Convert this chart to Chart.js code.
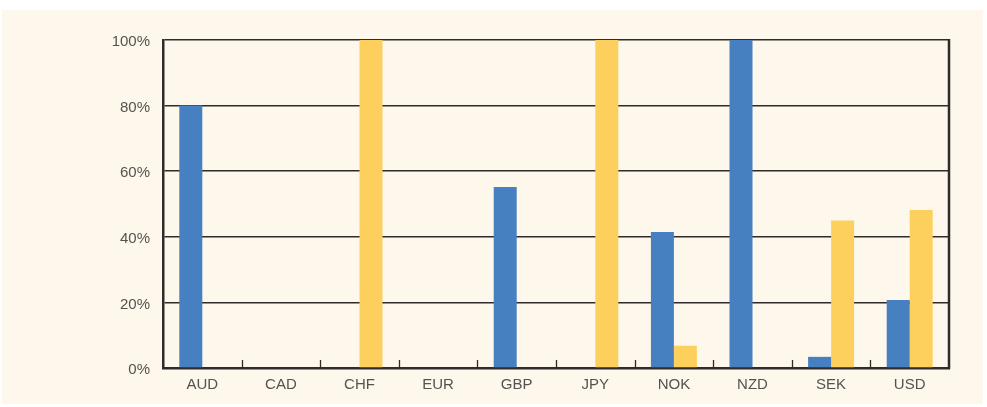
<!DOCTYPE html>
<html>
<head>
<meta charset="utf-8">
<script src="https://cdn.jsdelivr.net/npm/chart.js@4/dist/chart.umd.min.js"></script>
<style>
  html, body { margin: 0; padding: 0; background: #ffffff; }
  #wrap { position: relative; width: 987px; height: 407px; }
  #bg { position: absolute; left: 2px; top: 10px; width: 981px; height: 394px; background: #fdf7ec; }
  #chart { position: absolute; left: 0; top: 0; }
</style>
</head>
<body>
<div id="wrap">
  <div id="bg"></div>
  <canvas id="chart" width="987" height="407"></canvas>
</div>
<script>
// categories and values (percent)
const currencies = ['AUD', 'CAD', 'CHF', 'EUR', 'GBP', 'JPY', 'NOK', 'NZD', 'SEK', 'USD'];
const blueSeries = [80, 0, 0, 0, 55.2, 0, 41.5, 100, 3.4, 20.7];
const yellowSeries = [0, 0, 100, 0, 0, 100, 6.8, 0, 45, 48.2];
const yTicks = [0, 20, 40, 60, 80, 100];

const lineCol = '#2e2b2a';
const textCol = '#57524f';

// right border + inward category ticks
const framePlugin = {
  id: 'frame',
  afterDraw(chart) {
    const ctx = chart.ctx;
    const area = chart.chartArea;
    const xs = chart.scales.x;
    ctx.save();
    ctx.strokeStyle = lineCol;
    ctx.lineWidth = 2.5;
    ctx.beginPath();
    ctx.moveTo(area.right, area.top - 1);
    ctx.lineTo(area.right, area.bottom + 1);
    ctx.stroke();
    ctx.lineWidth = 1.3;
    for (let i = 1; i < currencies.length; i++) {
      const x = Math.round((xs.getPixelForTick(i - 1) + xs.getPixelForTick(i)) / 2) + 0.5;
      ctx.beginPath();
      ctx.moveTo(x, area.bottom);
      ctx.lineTo(x, area.bottom - 8);
      ctx.stroke();
    }
    ctx.restore();
  }
};

new Chart(document.getElementById('chart'), {
  type: 'bar',
  data: {
    labels: currencies,
    datasets: [
      { data: blueSeries, backgroundColor: '#4780c0' },
      { data: yellowSeries, backgroundColor: '#fdd05e' }
    ]
  },
  options: {
    responsive: false,
    animation: false,
    events: [],
    layout: { padding: { left: 0, top: 40, right: 38, bottom: 0 } },
    datasets: { bar: { categoryPercentage: 0.585, barPercentage: 1.0 } },
    plugins: { legend: { display: false }, tooltip: { enabled: false } },
    scales: {
      x: {
        grid: { display: false, drawTicks: false },
        border: { color: lineCol, width: 2.5 },
        ticks: {
          color: textCol,
          font: { family: 'Liberation Sans', size: 15 },
          padding: 8
        },
        afterFit(scale) { scale.height = 39; }
      },
      y: {
        min: 0,
        max: 100,
        afterBuildTicks(scale) { scale.ticks = yTicks.map(v => ({ value: v })); },
        grid: { color: lineCol, lineWidth: 1.5, drawTicks: false },
        border: { color: lineCol, width: 2.5 },
        ticks: {
          color: textCol,
          font: { family: 'Liberation Sans', size: 15 },
          padding: 13,
          labelOffset: 2,
          callback: v => v + '%'
        },
        afterFit(scale) { scale.width = 163; }
      }
    }
  },
  plugins: [framePlugin]
});
</script>
</body>
</html>
